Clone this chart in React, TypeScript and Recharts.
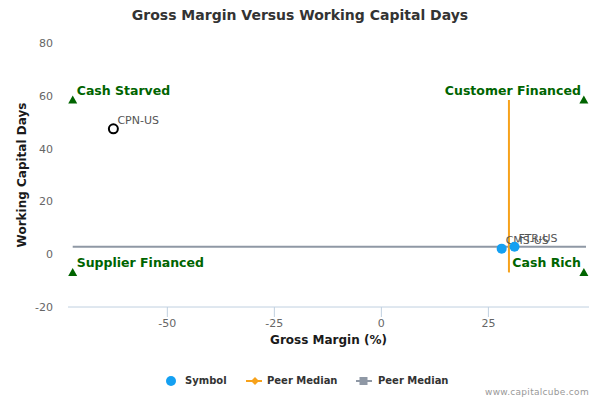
import React from "react";
import { ScatterChart, Scatter, XAxis, YAxis } from "recharts";

// ---- data ----
const symbolNames = ["CMS-US", "FTR-US"];
const symbolMargin = [28.1, 31.1];
const symbolDays = [2.1, 2.8];

const companyNames = ["CPN-US"];
const companyMargin = [-62.6];
const companyDays = [47.5];

const quadrantNames = ["Cash Starved", "Customer Financed", "Supplier Financed", "Cash Rich"];
const quadrantMargin = [-72.1, 47.3, -72.1, 47.3];
const quadrantDays = [58.4, 58.4, -6.9, -6.9];

// peer medians
const medianMargin = 29.8;
const medianMarginSpan = [-6.9, 58.4]; // days range of the vertical line
const medianDays = 2.8;
const medianDaysSpan = [-72.1, 47.8]; // margin range of the horizontal line

const xTicks = [-50, -25, 0, 25];
const yTicks = [-20, 0, 20, 40, 60, 80];

const FONT = '"DejaVu Sans", Verdana, sans-serif';
const BLUE = "#14A0F2";
const ORANGE = "#F7A21B";
const GREY = "#8F98A5";
const GREEN = "#006400";

const symbolData = symbolNames.map((name, i) => ({ name, x: symbolMargin[i], y: symbolDays[i] }));
const companyData = companyNames.map((name, i) => ({ name, x: companyMargin[i], y: companyDays[i] }));
const quadrantData = quadrantNames.map((name, i) => ({ name, x: quadrantMargin[i], y: quadrantDays[i] }));
const vLine = medianMarginSpan.map((y) => ({ x: medianMargin, y }));
const hLine = medianDaysSpan.map((x) => ({ x, y: medianDays }));

function NoShape() {
    return <g />;
}

function SymbolDot(props: any) {
    const { cx, cy, payload } = props;
    return (
        <g>
            <circle cx={cx} cy={cy} r={5} fill={BLUE} />
            <text x={cx + 4} y={cy - 5} fontSize={11} fill="#555" fontFamily={FONT}>
                {payload.name}
            </text>
        </g>
    );
}

function CompanyDot(props: any) {
    const { cx, cy, payload } = props;
    return (
        <g>
            <circle cx={cx} cy={cy} r={4.5} fill="#fff" stroke="#000" strokeWidth={2} />
            <text x={cx + 4} y={cy - 5} fontSize={11} fill="#555" fontFamily={FONT}>
                {payload.name}
            </text>
        </g>
    );
}

function QuadrantMark(props: any) {
    const { cx, cy, payload } = props;
    const left = payload.x < 0;
    return (
        <g>
            <polygon
                points={`${cx},${cy - 4.5} ${cx - 4.5},${cy + 3.5} ${cx + 4.5},${cy + 3.5}`}
                fill={GREEN}
            />
            <text
                x={left ? cx + 4 : cx - 3}
                y={cy - 5.5}
                textAnchor={left ? "start" : "end"}
                fontSize={12.5}
                fontWeight="bold"
                fill={GREEN}
                fontFamily={FONT}
            >
                {payload.name}
            </text>
        </g>
    );
}

const legendText: React.CSSProperties = {
    position: "absolute",
    top: 375,
    fontSize: 10,
    fontWeight: "bold",
    color: "#333",
    lineHeight: "12px",
};

export default function App() {
    return (
        <div
            style={{
                position: "absolute",
                left: 0,
                top: 0,
                width: 600,
                height: 400,
                background: "#fff",
                fontFamily: FONT,
            }}
        >
            <div
                style={{
                    position: "absolute",
                    top: 7,
                    left: 0,
                    width: 600,
                    textAlign: "center",
                    fontSize: 14,
                    fontWeight: "bold",
                    color: "#333",
                }}
            >
                Gross Margin Versus Working Capital Days
            </div>

            <ScatterChart
                width={600}
                height={400}
                margin={{ top: 43, right: 11, bottom: 63, left: 8 }}
                style={{ position: "absolute", left: 0, top: 0 }}
            >
                <XAxis
                    type="number"
                    dataKey="x"
                    domain={[-73.2, 48.5]}
                    ticks={xTicks}
                    height={30}
                    tickSize={10}
                    tickMargin={2}
                    axisLine={{ stroke: "#C0D0E0" }}
                    tickLine={{ stroke: "#C0D0E0" }}
                    tick={{ fill: "#666", fontSize: 11 }}
                    allowDataOverflow
                />
                <YAxis
                    type="number"
                    dataKey="y"
                    domain={[-20, 80]}
                    ticks={yTicks}
                    width={60}
                    axisLine={false}
                    tickLine={false}
                    tickSize={6}
                    tickMargin={9}
                    tick={{ fill: "#666", fontSize: 11 }}
                    allowDataOverflow
                />
                <Scatter
                    data={hLine}
                    line={{ stroke: GREY, strokeWidth: 2 }}
                    shape={NoShape}
                    isAnimationActive={false}
                />
                <Scatter
                    data={vLine}
                    line={{ stroke: ORANGE, strokeWidth: 2 }}
                    shape={NoShape}
                    isAnimationActive={false}
                />
                <Scatter data={quadrantData} shape={QuadrantMark} isAnimationActive={false} />
                <Scatter data={companyData} shape={CompanyDot} isAnimationActive={false} />
                <Scatter data={symbolData} shape={SymbolDot} isAnimationActive={false} />
            </ScatterChart>

            {/* axis titles */}
            <div
                style={{
                    position: "absolute",
                    top: 333,
                    left: 68,
                    width: 521,
                    textAlign: "center",
                    fontSize: 12,
                    fontWeight: "bold",
                    color: "#1a1a1a",
                }}
            >
                Gross Margin (%)
            </div>
            <div
                style={{
                    position: "absolute",
                    top: 167,
                    left: 22 - 100,
                    width: 200,
                    textAlign: "center",
                    fontSize: 12,
                    fontWeight: "bold",
                    color: "#1a1a1a",
                    transform: "rotate(-90deg)",
                    lineHeight: "16px",
                }}
            >
                Working Capital Days
            </div>

            {/* legend */}
            <svg style={{ position: "absolute", left: 0, top: 370 }} width={600} height={22}>
                <circle cx={171} cy={11} r={5} fill={BLUE} />
                <line x1={246} y1={11} x2={262} y2={11} stroke={ORANGE} strokeWidth={2} />
                <polygon points="255,7 259,11 255,15 251,11" fill={ORANGE} />
                <line x1={356} y1={11} x2={372} y2={11} stroke={GREY} strokeWidth={2} />
                <rect x={359.5} y={7} width={8} height={8} fill={GREY} />
            </svg>
            <span style={{ ...legendText, left: 185 }}>Symbol</span>
            <span style={{ ...legendText, left: 267 }}>Peer Median</span>
            <span style={{ ...legendText, left: 378 }}>Peer Median</span>

            <div
                style={{
                    position: "absolute",
                    top: 387,
                    right: 11,
                    fontSize: 9,
                    color: "#999",
                    letterSpacing: 0.3,
                }}
            >
                www.capitalcube.com
            </div>
        </div>
    );
}
